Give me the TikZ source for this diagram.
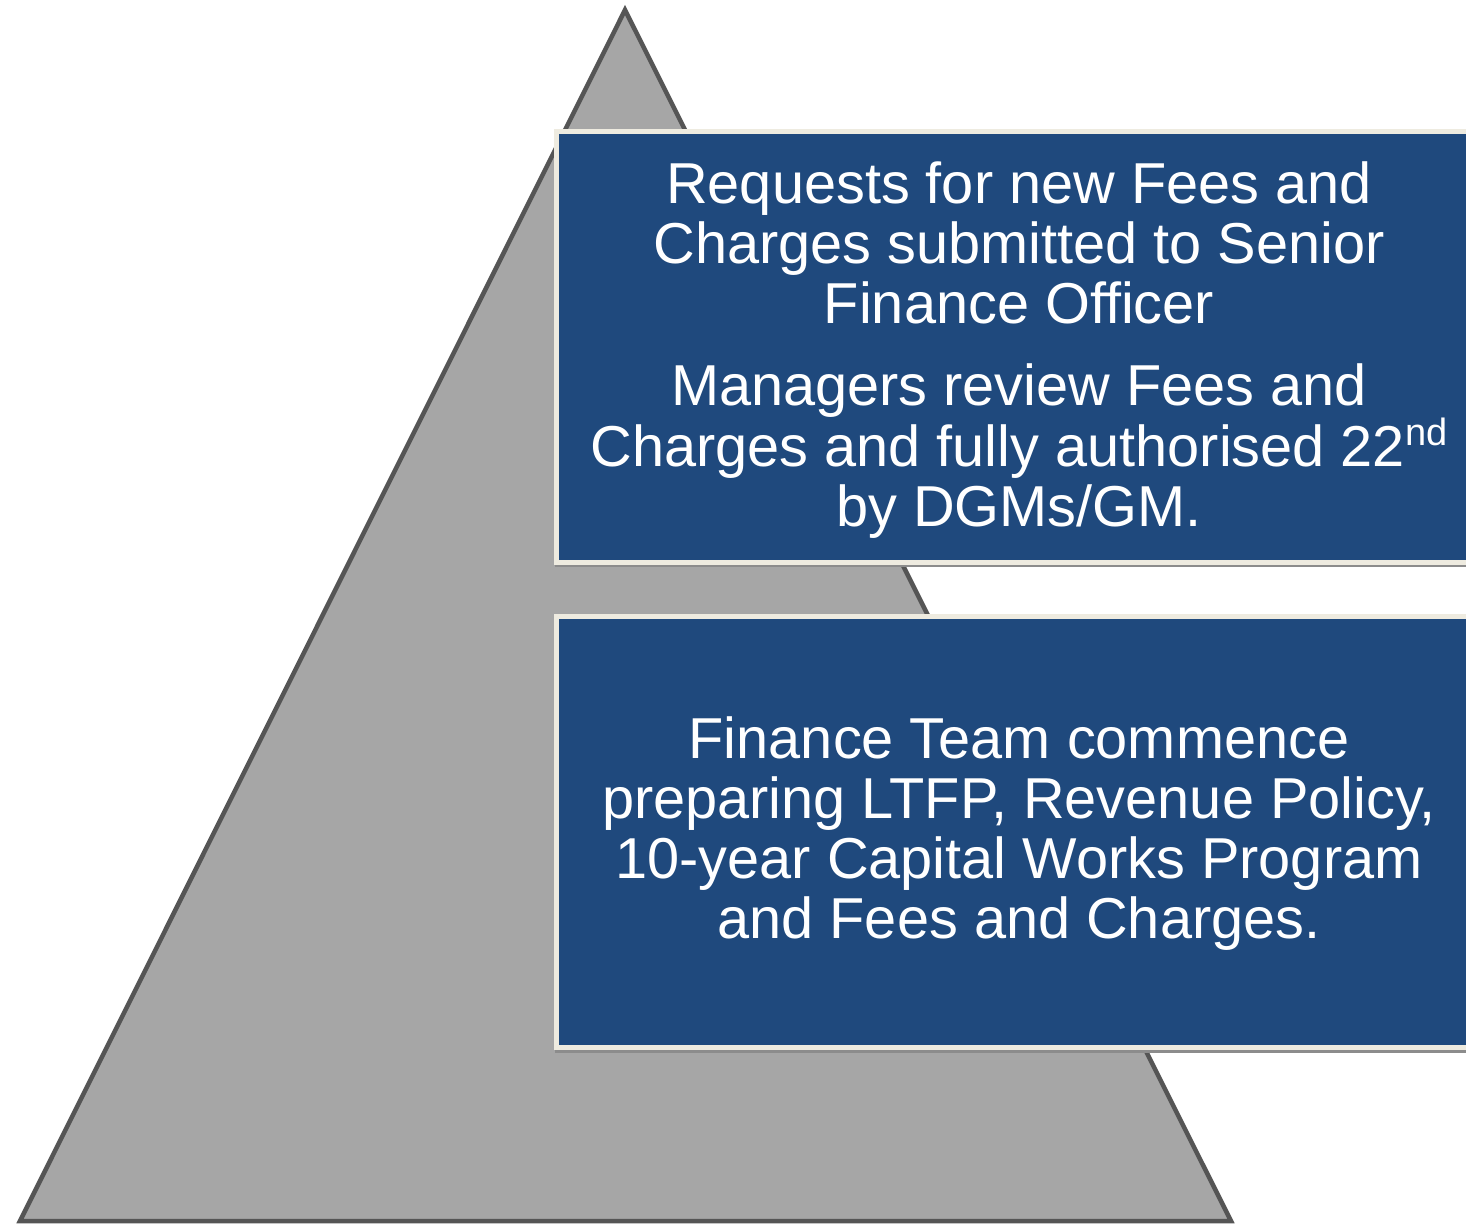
\documentclass[tikz,border=0pt]{standalone}
\usepackage{fontspec}
\setmainfont{Liberation Sans}
\definecolor{boxblue}{HTML}{1F497D}
\definecolor{boxrim}{HTML}{EEEBE0}
\definecolor{pyrfill}{HTML}{A6A6A6}
\definecolor{pyredge}{HTML}{555555}
\newcommand{\supnd}{\raisebox{0.36em}{\fontsize{38}{38}\selectfont nd}}
\tikzset{
  pyr/.style={fill=pyrfill, draw=pyredge, line width=4.5pt, line join=miter},
  panel/.style={fill=boxblue, draw=boxrim, line width=5pt},
  panelshadow/.style={fill=black!45, draw=none},
  paneltext/.style={text=white, align=center, font=\fontsize{57.7}{60}\selectfont, inner sep=0pt}
}
\begin{document}
\begin{tikzpicture}[x=1pt,y=-1pt]
\useasboundingbox (0,0) rectangle (1466,1224);
\begin{scope}
\clip (0,0) rectangle (1466,1224);
% pyramid
\coordinate (apex) at (625,10);
\coordinate (bl) at (20,1221);
\coordinate (br) at (1231,1221);
\draw[pyr] (apex) -- (br) -- (bl) -- cycle;
% top panel
\fill[panelshadow] (555,133) rectangle (1490,567);
\draw[panel] (556.5,131.5) rectangle (1490,562.5);
\node[paneltext] (top) at (1019,350) {Requests for new Fees and\\Charges submitted to Senior\\Finance Officer\\[22pt]Managers review Fees and\\Charges and fully authorised 22\supnd\\by DGMs/GM.};
% bottom panel
\fill[panelshadow] (555,618) rectangle (1490,1053);
\draw[panel] (556.5,616.5) rectangle (1490,1047.5);
\node[paneltext] (bot) at (1019,834) {Finance Team commence\\preparing LTFP, Revenue Policy,\\10-year Capital Works Program\\and Fees and Charges.};
\end{scope}
\end{tikzpicture}
\end{document}
